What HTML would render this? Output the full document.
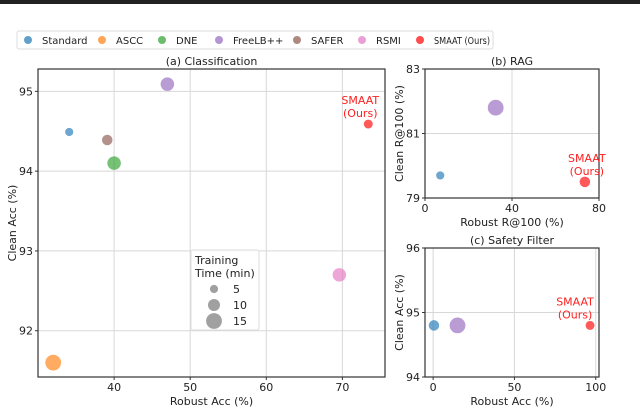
<!DOCTYPE html>
<html><head><meta charset="utf-8"><style>
body{margin:0;background:#fff;}
svg{font-family:"DejaVu Sans","Liberation Sans",sans-serif;}
</style></head><body>
<svg id="c" width="640" height="407" viewBox="0 0 640 407" xmlns="http://www.w3.org/2000/svg">
<rect x="0" y="0" width="640" height="4" fill="#222"/>
<g id="legend"></g>
<g id="pa"></g>
<g id="pb"></g>
<g id="pc"></g>
</svg>
<script>
const methods=["Standard","ASCC","DNE","FreeLB++","SAFER","RSMI","SMAAT (Ours)"];
const colors=["#1f77b4","#ff7f0e","#2ca02c","#9467bd","#8c564b","#e377c2","#ff0000"];
const aRobust=[34.1,32,40,47,39.1,69.6,73.4];
const aClean=[94.49,91.6,94.1,95.09,94.39,92.7,94.59];
const aTime=[5,15,12,12,8,12,6];
const bMethods=[0,3,6];
const bRobust=[7,32.5,73.5];
const bClean=[79.7,81.8,79.5];
const bTime=[5,15,8];
const cMethods=[0,3,6];
const cRobust=[0.5,15,96.5];
const cClean=[94.8,94.8,94.8];
const cTime=[8,15,6];
const aXTicks=[40,50,60,70], aYTicks=[92,93,94,95];
const bXTicks=[0,40,80], bYTicks=[79,81,83];
const cXTicks=[0,50,100], cYTicks=[94,95,96];
const NS="http://www.w3.org/2000/svg";
function mk(p,t,at){const e=document.createElementNS(NS,t);for(const k in at)e.setAttribute(k,at[k]);p.appendChild(e);return e;}
function rad(t){return 2.2+t*0.38;}
function panel(g,box,xd,yd,xt,yt,rob,cln,tm,mi,title,xl,yl,lab){
  const [L,T,R,B]=box;
  const sx=v=>L+(v-xd[0])/(xd[1]-xd[0])*(R-L);
  const sy=v=>B-(v-yd[0])/(yd[1]-yd[0])*(B-T);
  xt.forEach(v=>{const l=mk(g,"line",{x1:sx(v),x2:sx(v),y1:T,y2:B,stroke:"#d8d8d8","stroke-width":1});
    
    const t=mk(g,"text",{x:sx(v),y:B+14,"font-size":11,"text-anchor":"middle",fill:"#222"});t.textContent=v;
    
    mk(g,"line",{x1:sx(v),x2:sx(v),y1:B,y2:B+3,stroke:"#333"});});
  yt.forEach(v=>{const l=mk(g,"line",{x1:L,x2:R,y1:sy(v),y2:sy(v),stroke:"#d8d8d8","stroke-width":1});
    
    const t=mk(g,"text",{x:L-5,y:sy(v)+4,"font-size":11,"text-anchor":"end",fill:"#222"});t.textContent=v;
    
    mk(g,"line",{x1:L-3,x2:L,y1:sy(v),y2:sy(v),stroke:"#333"});});
  rob.forEach((v,i)=>{const c=mk(g,"circle",{cx:sx(v),cy:sy(cln[i]),r:rad(tm[i]),fill:colors[mi[i]],"fill-opacity":0.65});
    
    });
  const r=mk(g,"rect",{x:L,y:T,width:R-L,height:B-T,fill:"none",stroke:"#333","stroke-width":1.2});
  
  const tt=mk(g,"text",{x:(L+R)/2,y:T-4,"font-size":11,"text-anchor":"middle",fill:"#222"});tt.textContent=title;
  
  const xa=mk(g,"text",{x:(L+R)/2,y:B+28,"font-size":11,"text-anchor":"middle",fill:"#222"});xa.textContent=xl;
  
  const ya=mk(g,"text",{x:0,y:0,"font-size":11,"text-anchor":"middle",fill:"#222",transform:`translate(${L-(yl.length>12?22:25)},${(T+B)/2}) rotate(-90)`});ya.textContent=yl;
  
  const last=rob.length-1;
  const lx=sx(rob[last])+lab[0], ly=sy(cln[last])+lab[1];
  const l1=mk(g,"text",{x:lx,y:ly,"font-size":11,"text-anchor":"middle",fill:"#ff2020"});l1.textContent="SMAAT";
  
  const l2=mk(g,"text",{x:lx,y:ly+13,"font-size":11,"text-anchor":"middle",fill:"#ff2020"});l2.textContent="(Ours)";
  
}
panel(document.getElementById('pa'),[38,69,385,377],[30,75.6],[91.42,95.28],aXTicks,aYTicks,aRobust,aClean,aTime,[0,1,2,3,4,5,6],"(a) Classification","Robust Acc (%)","Clean Acc (%)",[-8,-20]);
panel(document.getElementById('pb'),[425,69,599,198],[0,80],[79,83],bXTicks,bYTicks,bRobust,bClean,bTime,bMethods,"(b) RAG","Robust R@100 (%)","Clean R@100 (%)",[2,-20]);
panel(document.getElementById('pc'),[425,248,599,377],[-5,102],[94,96],cXTicks,cYTicks,cRobust,cClean,cTime,cMethods,"(c) Safety Filter","Robust Acc (%)","Clean Acc (%)",[-15,-20]);
// size legend
const pa=document.getElementById('pa');
const sb=mk(pa,"rect",{x:191,y:250,width:68,height:80,fill:"#fff","fill-opacity":0.85,stroke:"#ddd",rx:2});

[["Training",264],["Time (min)",277]].forEach(([s,y])=>{const t=mk(pa,"text",{x:195,y:y,"font-size":11,fill:"#222"});t.textContent=s;
  });
const sizeVals=[5,10,15];
sizeVals.forEach((v,i)=>{const y=289+i*16;
  const c=mk(pa,"circle",{cx:214,cy:y,r:rad(v),fill:"#888","fill-opacity":0.8});
  
  const t=mk(pa,"text",{x:233,y:y+4,"font-size":11,fill:"#222"});t.textContent=v;
  });
// top legend
const lg=document.getElementById('legend');
const lb=mk(lg,"rect",{x:17,y:31,width:476,height:18,fill:"#fff",stroke:"#ddd",rx:2});

const lxs=[28,102,162,219,297,362,420];
methods.forEach((m,i)=>{const c=mk(lg,"circle",{cx:lxs[i],cy:40,r:4,fill:colors[i],"fill-opacity":0.7});
  
  const t=mk(lg,"text",{x:lxs[i]+14,y:44,"font-size":10,fill:"#222"});t.textContent=m;
  if(i===6){t.setAttribute('textLength','56');t.setAttribute('lengthAdjust','spacingAndGlyphs');}
  });
</script>
</body></html>
